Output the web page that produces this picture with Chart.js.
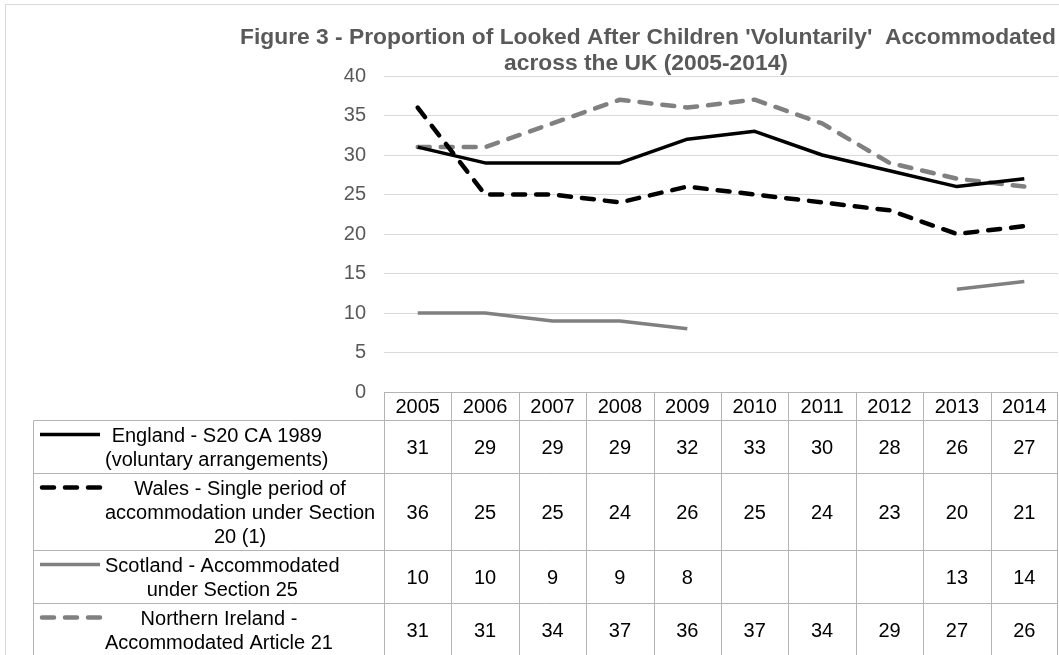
<!DOCTYPE html>
<html>
<head>
<meta charset="utf-8">
<title>Figure 3</title>
<script src="https://cdn.jsdelivr.net/npm/chart.js@4/dist/chart.umd.min.js"></script>
<style>
    body { margin: 0; background: #ffffff; }
    #wrap { width: 1059px; height: 655px; }
</style>
</head>
<body>
<div id="wrap"><canvas id="lac_chart" width="1059" height="655"></canvas></div>
<script>
/*
*  Figure 3 - looked after children accommodated voluntarily, with data table
*/

const years = ['2005', '2006', '2007', '2008', '2009', '2010', '2011', '2012', '2013', '2014'];
const england = [31, 29, 29, 29, 32, 33, 30, 28, 26, 27];
const wales = [36, 25, 25, 24, 26, 25, 24, 23, 20, 21];
const scotland = [10, 10, 9, 9, 8, null, null, null, 13, 14];
const northernIreland = [31, 31, 34, 37, 36, 37, 34, 29, 27, 26];

const englandLabel = ['England - S20 CA 1989', '(voluntary arrangements)'];
const walesLabel = ['Wales - Single period of', 'accommodation under Section', '20 (1)'];
const scotlandLabel = ['Scotland - Accommodated', 'under Section 25'];
const niLabel = ['Northern Ireland -', 'Accommodated Article 21'];

const yTicks = [0, 5, 10, 15, 20, 25, 30, 35, 40];
const titleLines = ["Figure 3 - Proportion of Looked After Children 'Voluntarily'  Accommodated", 'across the UK (2005-2014)'];

const FONT = '"Liberation Sans", Arial, sans-serif';

function makeSeries(label, lines, data, color, width, dash) {
    return {
        label: lines.join(' '),
        labelLines: lines,
        data: data,
        borderColor: color,
        backgroundColor: color,
        borderWidth: width,
        borderDash: dash,
        borderCapStyle: dash.length ? 'round' : 'butt',
        borderJoinStyle: 'round',
        pointRadius: 0,
        tension: 0,
        spanGaps: false,
    };
}

// title, outer frame and the data table under the plot
const tablePlugin = {
    id: 'dataTable',
    afterDraw(chart) {
        let ctx = chart.ctx;
        let area = chart.chartArea;
        let colW = (area.right - area.left) / years.length;
        let tableLeft = 33.5;
        let headTop = Math.round(area.bottom) + 0.5;
        let headH = 28;
        let lineH = 24;

        ctx.save();
        // outer frame
        ctx.strokeStyle = '#d9d9d9';
        ctx.lineWidth = 1;
        ctx.strokeRect(5.5, 4.5, 1080, 700);

        // title
        ctx.fillStyle = '#595959';
        ctx.font = 'bold 22.8px ' + FONT;
        ctx.textAlign = 'center';
        ctx.textBaseline = 'alphabetic';
        ctx.fillText(titleLines[0], 648, 44);
        ctx.fillText(titleLines[1], 646, 70);

        // row geometry
        let rows = [];
        let y = headTop + headH;
        chart.data.datasets.forEach((ds) => {
            let h = ds.labelLines.length * lineH + 5;
            rows.push({ top: y, h: h, ds: ds });
            y += h;
        });
        let bottom = y;

        // grid lines
        ctx.strokeStyle = '#b3b3b3';
        ctx.beginPath();
        ctx.moveTo(area.left, headTop); ctx.lineTo(area.right, headTop);
        ctx.moveTo(tableLeft, headTop + headH); ctx.lineTo(area.right, headTop + headH);
        rows.forEach((r) => { ctx.moveTo(tableLeft, r.top + r.h); ctx.lineTo(area.right, r.top + r.h); });
        for (let i = 0; i <= years.length; i++) {
            let x = Math.round(area.left + i * colW) + 0.5;
            if (i == years.length) x = Math.round(area.right) - 0.5;
            ctx.moveTo(x, headTop); ctx.lineTo(x, bottom);
        }
        ctx.moveTo(tableLeft, headTop + headH); ctx.lineTo(tableLeft, bottom);
        ctx.stroke();

        // header years
        ctx.fillStyle = '#000000';
        ctx.font = '20px ' + FONT;
        ctx.textAlign = 'center';
        years.forEach((yr, i) => {
            ctx.fillText(yr, chart.scales.x.getPixelForValue(i), headTop + 20);
        });

        // series rows
        rows.forEach((r) => {
            let ds = r.ds;
            // legend key
            ctx.save();
            ctx.strokeStyle = ds.borderColor;
            ctx.lineWidth = ds.borderWidth;
            ctx.lineCap = ds.borderCapStyle;
            ctx.setLineDash(ds.borderDash);
            ctx.beginPath();
            let keyY = r.top + 14;
            if (ds.borderDash.length) {
                ctx.moveTo(42, keyY); ctx.lineTo(100, keyY);
            } else {
                ctx.moveTo(40, keyY); ctx.lineTo(100, keyY);
            }
            ctx.stroke();
            ctx.restore();

            // label text, lines centred inside the block
            ctx.font = '20px ' + FONT;
            let maxW = Math.max(...ds.labelLines.map((t) => ctx.measureText(t).width));
            let cx = 105 + maxW / 2;
            ds.labelLines.forEach((t, k) => {
                ctx.fillText(t, cx, r.top + 21 + k * lineH);
            });

            // values
            ds.data.forEach((v, i) => {
                if (v === null) return;
                ctx.fillText(String(v), chart.scales.x.getPixelForValue(i), r.top + r.h / 2 + 7);
            });
        });
        ctx.restore();
    }
};

function makeChart(canvas) {
    let chartConfig = {
        type: 'line',
        data: {
            labels: years,
            datasets: [
                makeSeries('England', englandLabel, england, '#000000', 3.5, []),
                makeSeries('Wales', walesLabel, wales, '#000000', 4.5, [12, 11]),
                makeSeries('Scotland', scotlandLabel, scotland, '#808080', 3.5, []),
                makeSeries('Northern Ireland', niLabel, northernIreland, '#808080', 4.5, [12, 11]),
            ],
        },
        options: {
            responsive: false,
            animation: false,
            layout: { padding: { top: 76, left: 0, right: 1, bottom: 263 } },
            scales: {
                x: {
                    display: false,
                    offset: true,
                    grid: { display: false },
                },
                y: {
                    min: 0,
                    max: 40,
                    afterBuildTicks: (axis) => { axis.ticks = yTicks.map((v) => ({ value: v })); },
                    afterFit: (axis) => { axis.width = 384; },
                    border: { display: false },
                    grid: { color: '#d9d9d9', lineWidth: 1, drawTicks: false },
                    ticks: {
                        padding: 18,
                        color: '#595959',
                        font: { family: FONT, size: 20 },
                    },
                },
            },
            plugins: {
                legend: { display: false },
                tooltip: { enabled: false },
                title: { display: false },
            },
        },
        plugins: [tablePlugin],
    };
    return new Chart(canvas, chartConfig);
}

const chartCanvas = document.getElementById('lac_chart');
const lacChart = makeChart(chartCanvas);
</script>
</body>
</html>
